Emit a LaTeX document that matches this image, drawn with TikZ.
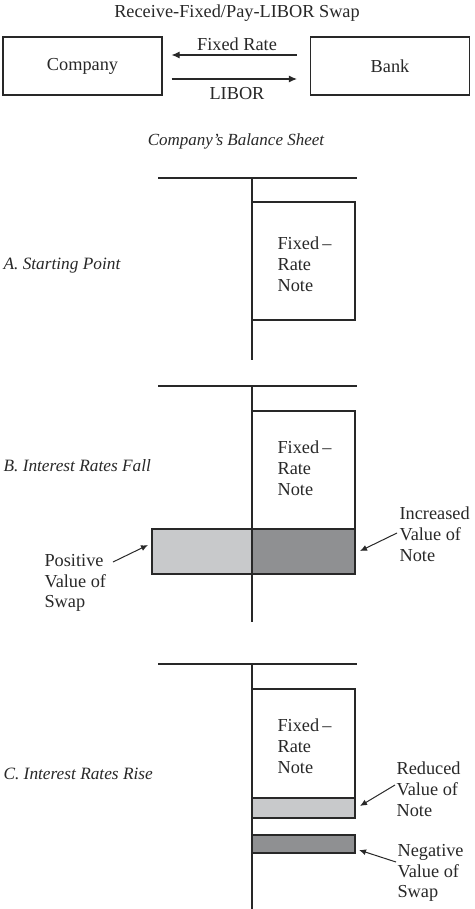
\documentclass[tikz,border=0pt]{standalone}
\usepackage{fontspec}
\setmainfont{Liberation Serif}
\usetikzlibrary{arrows.meta,calc}
\definecolor{inkc}{RGB}{40,40,40}
\definecolor{lightbar}{RGB}{200,201,203}
\definecolor{darkbar}{RGB}{143,144,146}
\begin{document}
\begin{tikzpicture}[x=1pt,y=-1pt,
  line width=1.1pt, draw=inkc,
  every node/.style={font=\fontsize{18.3}{20.8}\selectfont, text=inkc, inner sep=0pt},
  party/.style={draw=inkc, line width=1.1pt, minimum width=159pt, minimum height=58pt},
  seclabel/.style={anchor=west, font=\fontsize{17.3}{20.8}\selectfont\itshape},
  notetext/.style={anchor=west, align=left},
  sidetext/.style={anchor=west, align=left},
  arr/.style={-{Latex[length=8pt,width=7pt]}, line width=1.1pt, draw=inkc},
  sarr/.style={-{Latex[length=7pt,width=6pt]}, line width=1pt, draw=inkc}]
\fill[white] (0,0) rectangle (474,909);
\path[use as bounding box] (0,0) rectangle (474,909);

% --- swap at the top
\node (title) at (237,13) {Receive-Fixed/Pay-LIBOR Swap};
\node[party] (company) at (82.5,66) {Company};
\node[party] (bank) at (390,66) {Bank};
\coordinate (fr1) at ($(bank.west)+(-13,-11)$);
\coordinate (fr2) at ($(company.east)+(9,-11)$);
\coordinate (lb1) at ($(company.east)+(9,13)$);
\coordinate (lb2) at ($(bank.west)+(-13,13)$);
\draw[arr] (fr1) -- (fr2);
\draw[arr] (lb1) -- (lb2);
\node (fixedlbl) at (237,44) {Fixed Rate};
\node (liborlbl) at (237,94) {LIBOR};

\node[font=\fontsize{17}{20.8}\selectfont\itshape] (bstitle) at (236,141) {Company's Balance Sheet};

% --- A. Starting point
\coordinate (aL) at (158,178); \coordinate (aR) at (357,178);
\coordinate (aT) at (252,178); \coordinate (aB) at (252,360);
\draw (aL) -- (aR);
\draw (aT) -- (aB);
\draw (252,202) rectangle (355,320);
\node[notetext] (anote) at (277,264) {Fixed\,--\\Rate\\Note};
\node[seclabel] (alabel) at (3,266) {A. Starting Point};

% --- B. Interest rates fall
\coordinate (bL) at (158,386); \coordinate (bR) at (357,386);
\coordinate (bT) at (252,386); \coordinate (bB) at (252,622);
\draw (bL) -- (bR);
\draw[fill=lightbar] (152,529) rectangle (252,574);
\draw[fill=darkbar] (252,529) rectangle (355,574);
\draw (252,411) rectangle (355,529);
\draw (bT) -- (bB);
\node[notetext] (bnote) at (277,468) {Fixed\,--\\Rate\\Note};
\node[seclabel] (blabel) at (3,466) {B. Interest Rates Fall};
\node[sidetext] (incr) at (399,534) {Increased\\Value of\\Note};
\coordinate (incrS) at (397,533); \coordinate (incrT) at (360,551);
\draw[sarr] (incrS) -- (incrT);
\node[sidetext] (pos) at (44,583) {Positive\\Value of\\Swap};
\coordinate (posS) at (113,562); \coordinate (posT) at (148,545);
\draw[sarr] (posS) -- (posT);

% --- C. Interest rates rise
\coordinate (cL) at (158,664); \coordinate (cR) at (357,664);
\coordinate (cT) at (252,664); \coordinate (cB) at (252,909);
\draw (cL) -- (cR);
\draw (252,689) rectangle (355,798);
\draw[fill=lightbar] (252,798) rectangle (355,818);
\draw[fill=darkbar] (252,835) rectangle (355,853);
\draw (cT) -- (cB);
\node[notetext] (cnote) at (277,746) {Fixed\,--\\Rate\\Note};
\node[seclabel] (clabel) at (3,774) {C. Interest Rates Rise};
\node[sidetext] (red) at (396,789) {Reduced\\Value of\\Note};
\coordinate (redS) at (395,785); \coordinate (redT) at (360,806);
\draw[sarr] (redS) -- (redT);
\node[sidetext] (neg) at (397,873) {Negative\\Value of\\Swap};
\coordinate (negS) at (396,862); \coordinate (negT) at (359,850);
\draw[sarr] (negS) -- (negT);
\end{tikzpicture}
\end{document}
